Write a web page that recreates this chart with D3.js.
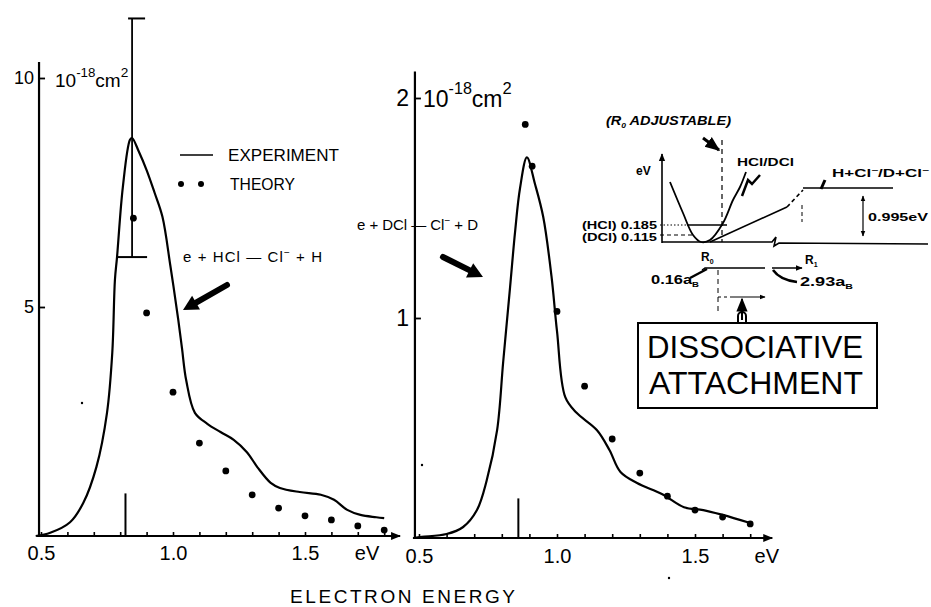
<!DOCTYPE html>
<html><head><meta charset="utf-8">
<script src="https://cdn.jsdelivr.net/npm/d3@7/dist/d3.min.js"></script>
<style>
body{margin:0;background:#fff;}
svg{display:block;font-family:"Liberation Sans",Arial,sans-serif;}
</style></head><body>
<svg id="c" width="931" height="607"></svg>
<script>
// ---------------- DATA ----------------
const energyTicksL = [0.5,0.6,0.7,0.8,0.9,1.0,1.1,1.2,1.3,1.4,1.5,1.6,1.7,1.8];
const energyTicksR = [0.5,0.6,0.7,0.8,0.9,1.0,1.1,1.2,1.3,1.4,1.5,1.6,1.7];
const xTickLabels = ["0.5","1.0","1.5"];
const hclYTicks = [5,10];
const dclYTicks = [1,2];

// e + HCl -> Cl- + H  (10^-18 cm^2)
const hclExpE = [0.48,0.535,0.61,0.66,0.71,0.75,0.77,0.78,0.788,0.81,0.837,0.845,0.87,0.9,0.93,0.96,0.99,1.02,1.034,1.05,1.083,1.13,1.18,1.23,1.28,1.32,1.37,1.405,1.48,1.56,1.61,1.66,1.71,1.77,1.80];
const hclExpV = [0,0.07,0.3,0.72,1.51,2.69,4.0,5.59,6.09,7.62,8.65,8.69,8.4,7.99,7.5,6.97,5.9,4.72,4.1,3.4,2.69,2.45,2.27,2.1,1.83,1.5,1.16,1.05,0.96,0.9,0.79,0.57,0.46,0.41,0.39];
const hclTheoryE = [0.85,0.9,1.0,1.1,1.2,1.3,1.4,1.5,1.6,1.7,1.8];
const hclTheoryV = [6.94,4.87,3.14,2.03,1.42,0.9,0.61,0.44,0.35,0.22,0.13];
const hclErrE = [0.845];
const hclErrLo = [6.09];
const hclErrHi = [11.3];

// e + DCl -> Cl- + D  (10^-18 cm^2)
const dclExpE = [0.48,0.51,0.6,0.66,0.71,0.745,0.783,0.805,0.83,0.848,0.866,0.891,0.92,0.95,0.98,1.0,1.03,1.07,1.145,1.19,1.23,1.29,1.38,1.46,1.53,1.6,1.70];
const dclExpV = [0,0.005,0.018,0.05,0.127,0.26,0.49,0.8,1.14,1.39,1.59,1.73,1.61,1.46,1.19,0.94,0.64,0.57,0.49,0.4,0.3,0.25,0.2,0.14,0.127,0.105,0.068];
const dclTheoryE = [0.885,0.91,1.0,1.1,1.2,1.3,1.4,1.5,1.6,1.7];
const dclTheoryV = [1.88,1.69,1.03,0.69,0.45,0.295,0.19,0.127,0.095,0.064];

// threshold markers (energy, marker height in panel units)
const thresholdE = [0.82,0.86];
const thresholdH = [0.93,0.18];

// ---------------- DRAW ----------------
const svg = d3.select("#c");
const defs = svg.append("defs");
defs.append("marker").attr("id","ah").attr("viewBox","0 0 10 10").attr("refX",9).attr("refY",5)
  .attr("markerWidth",7).attr("markerHeight",7).attr("orient","auto-start-reverse")
  .append("path").attr("d","M0,1L10,5L0,9z").attr("fill","#000");
defs.append("marker").attr("id","ahs").attr("viewBox","0 0 10 10").attr("refX",9).attr("refY",5)
  .attr("markerWidth",5).attr("markerHeight",5).attr("orient","auto-start-reverse")
  .append("path").attr("d","M0,1L10,5L0,9z").attr("fill","#000");

function thickArrow(x1,y1,x2,y2,w,hl,hw){
  const dx=x2-x1, dy=y2-y1, L=Math.hypot(dx,dy), ux=dx/L, uy=dy/L, px=-uy, py=ux;
  const bx=x2-ux*hl, by=y2-uy*hl;
  svg.append("line").attr("x1",x1).attr("y1",y1).attr("x2",bx+ux*2).attr("y2",by+uy*2)
    .attr("stroke","#000").attr("stroke-width",w).attr("stroke-linecap","round");
  svg.append("path").attr("d",`M${x2},${y2}L${bx+px*hw},${by+py*hw}L${bx-px*hw},${by-py*hw}Z`).attr("fill","#000");
}
function fit(sel,len){ return sel.attr("textLength",len).attr("lengthAdjust","spacingAndGlyphs"); }

function panel(o){
  const g = svg.append("g");
  const x = o.x, y = o.y;
  const fmt = d3.format(".1f");
  // x axis
  const xa = g.append("g").attr("transform",`translate(0,${y(0)})`)
    .call(d3.axisBottom(x).tickValues(o.xt).tickSize(-4)
      .tickFormat(d => xTickLabels.includes(fmt(d)) ? fmt(d) : ""));
  xa.select(".domain").remove();
  xa.selectAll(".tick line").attr("stroke","#000").attr("stroke-width",1.6);
  xa.selectAll(".tick text").attr("y",o.xlabY).attr("dy",0).attr("font-size",o.xfs)
    .attr("font-family",'"Liberation Sans",Arial,sans-serif').attr("fill","#000");
  g.append("line").attr("x1",x(o.xStart)).attr("x2",x(o.xEnd)).attr("y1",y(0)).attr("y2",y(0))
    .attr("stroke","#000").attr("stroke-width",2).attr("marker-end","url(#ahs)");
  g.append("text").attr("x",x(o.evAt)).attr("y",y(0)+o.xlabY).attr("text-anchor","middle")
    .attr("font-size",o.xfs).text("eV");
  // y axis
  const ya = g.append("g").attr("transform",`translate(${x(o.xStart)+2},0)`)
    .call(d3.axisLeft(y).tickValues(o.yt).tickSize(-6).tickPadding(o.ypad).tickFormat(d3.format("d")));
  ya.select(".domain").remove();
  ya.selectAll(".tick line").attr("stroke","#000").attr("stroke-width",1.8);
  ya.selectAll(".tick text").attr("font-size",o.yfs).attr("fill","#000")
    .attr("font-family",'"Liberation Sans",Arial,sans-serif');
  g.append("line").attr("x1",x(o.xStart)+2).attr("x2",x(o.xStart)+2).attr("y1",y(0)).attr("y2",y(o.yTop))
    .attr("stroke","#000").attr("stroke-width",2.2);
  // unit label
  const u = g.append("text").attr("x",o.unitX).attr("y",o.unitY).attr("font-size",o.ufs);
  u.append("tspan").text("10");
  u.append("tspan").attr("font-size",o.ufs*0.7).attr("dy",-o.ufs*0.55).text("-18");
  u.append("tspan").attr("dy",o.ufs*0.55).text("cm");
  u.append("tspan").attr("font-size",o.ufs*0.72).attr("dy",-o.ufs*0.55).text("2");
  // threshold marker
  g.append("line").attr("x1",x(o.thE)).attr("x2",x(o.thE)).attr("y1",y(0)).attr("y2",y(o.thH))
    .attr("stroke","#000").attr("stroke-width",2);
  // experiment curve
  const line = d3.line().x(d=>x(d[0])).y(d=>y(d[1])).curve(d3.curveCatmullRom.alpha(0.5));
  g.append("path").datum(d3.zip(o.expE,o.expV)).attr("d",line)
    .attr("fill","none").attr("stroke","#000").attr("stroke-width",2.2);
  // theory dots
  g.selectAll("circle.t").data(d3.zip(o.thyE,o.thyV)).join("circle")
    .attr("cx",d=>x(d[0])).attr("cy",d=>y(d[1])).attr("r",3.4).attr("fill","#000");
  return g;
}

const xL = d3.scaleLinear().domain([0.5,1.0]).range([41,173]);
const yL = d3.scaleLinear().domain([0,10]).range([536,78]);
const xR = d3.scaleLinear().domain([0.5,1.0]).range([419,557]);
const yR = d3.scaleLinear().domain([0,2]).range([538,98]);

panel({x:xL,y:yL,xt:energyTicksL,xStart:0.485,xEnd:1.86,evAt:1.735,xlabY:24,xfs:20,
  yt:hclYTicks,yTop:10.35,ypad:5,yfs:18,unitX:55,unitY:87,ufs:19,
  thE:thresholdE[0],thH:thresholdH[0],expE:hclExpE,expV:hclExpV,thyE:hclTheoryE,thyV:hclTheoryV});
panel({x:xR,y:yR,xt:energyTicksR,xStart:0.478,xEnd:1.78,evAt:1.76,xlabY:25,xfs:20,
  yt:dclYTicks,yTop:2.12,ypad:6,yfs:23,unitX:423,unitY:107,ufs:23,
  thE:thresholdE[1],thH:thresholdH[1],expE:dclExpE,expV:dclExpV,thyE:dclTheoryE,thyV:dclTheoryV});

// error bar (left panel)
hclErrE.forEach((e,i)=>{
  const cx=xL(e);
  svg.append("line").attr("x1",cx).attr("x2",cx).attr("y1",yL(hclErrLo[i])).attr("y2",yL(hclErrHi[i]))
    .attr("stroke","#000").attr("stroke-width",1.8);
  svg.append("line").attr("x1",cx-4).attr("x2",cx+13).attr("y1",yL(hclErrHi[i])).attr("y2",yL(hclErrHi[i]))
    .attr("stroke","#000").attr("stroke-width",2);
  svg.append("line").attr("x1",cx-15).attr("x2",cx+15).attr("y1",yL(hclErrLo[i])).attr("y2",yL(hclErrLo[i]))
    .attr("stroke","#000").attr("stroke-width",2);
});

// legend
svg.append("line").attr("x1",180).attr("x2",213).attr("y1",155).attr("y2",155).attr("stroke","#000").attr("stroke-width",1.6);
fit(svg.append("text").attr("x",228).attr("y",161).attr("font-size",17),111).text("EXPERIMENT");
[181,201].forEach(cx=>svg.append("circle").attr("cx",cx).attr("cy",184).attr("r",3).attr("fill","#000"));
fit(svg.append("text").attr("x",230).attr("y",190).attr("font-size",17),65).text("THEORY");

// reaction labels
const r1 = svg.append("text").attr("x",183).attr("y",262).attr("font-size",15).attr("textLength",139);
r1.append("tspan").text("e + HCl — Cl");
r1.append("tspan").attr("font-size",10).attr("dy",-6).text("−");
r1.append("tspan").attr("dy",6).text(" + H");
const r2 = svg.append("text").attr("x",357).attr("y",230).attr("font-size",15).attr("textLength",121);
r2.append("tspan").text("e + DCl — Cl");
r2.append("tspan").attr("font-size",10).attr("dy",-6).text("−");
r2.append("tspan").attr("dy",6).text(" + D");

thickArrow(227,285,183,310,6,15,8);
thickArrow(443,257,483,277,6,15,8);

// x title
svg.append("text").attr("x",290).attr("y",603).attr("font-size",19).attr("textLength",225).text("ELECTRON ENERGY");

// stray specks from the original scan
[[82,403],[422,465],[669,578]].forEach(p=>svg.append("circle").attr("cx",p[0]).attr("cy",p[1]).attr("r",1.2).attr("fill","#000"));

// ---------------- INSET: potential-curve schematic ----------------
const ins = svg.append("g").attr("font-weight","bold");
const st = (s)=>s.attr("stroke","#000").attr("fill","none");
const t1 = fit(ins.append("text").attr("x",606).attr("y",125).attr("font-size",12).attr("font-style","italic"),125);
t1.append("tspan").text("(R");
t1.append("tspan").attr("font-size",7).attr("dy",3).text("0");
t1.append("tspan").attr("dy",-3).text("  ADJUSTABLE)");
st(ins.append("line").attr("x1",703).attr("y1",138).attr("x2",719).attr("y2",150)).attr("stroke-width",3).attr("marker-end","url(#ahs)");
st(ins.append("line").attr("x1",722).attr("y1",140).attr("x2",722).attr("y2",242)).attr("stroke-width",1.2).attr("stroke-dasharray","5,4");
// eV axis
st(ins.append("line").attr("x1",662).attr("y1",243).attr("x2",662).attr("y2",154)).attr("stroke-width",1.6).attr("marker-end","url(#ahs)");
ins.append("text").attr("x",636).attr("y",175).attr("font-size",12).text("eV");
// bottom axis with break
st(ins.append("path").attr("d","M662,242L772,242L776,237L774,246L779,243L928,244")).attr("stroke-width",1.6);
// parabola
const para = [[670,182],[683,213],[693,235],[701,242],[710,240],[723,223],[733,200],[740,187],[746,172]];
st(ins.append("path").attr("d",d3.line().curve(d3.curveCatmullRom)(para))).attr("stroke-width",1.8);
// levels
st(ins.append("line").attr("x1",660).attr("y1",225).attr("x2",687).attr("y2",225)).attr("stroke-width",1).attr("stroke-dasharray","1.5,2");
st(ins.append("line").attr("x1",687).attr("y1",225).attr("x2",727).attr("y2",225)).attr("stroke-width",1.4);
st(ins.append("line").attr("x1",660).attr("y1",235).attr("x2",692).attr("y2",235)).attr("stroke-width",1.2).attr("stroke-dasharray","4,3");
fit(ins.append("text").attr("x",582).attr("y",229).attr("font-size",10),75).text("(HCl) 0.185");
fit(ins.append("text").attr("x",582).attr("y",241).attr("font-size",10),75).text("(DCl) 0.115");
// repulsive curve and plateau
st(ins.append("line").attr("x1",710).attr("y1",242).attr("x2",787).attr("y2",207)).attr("stroke-width",1.6);
st(ins.append("line").attr("x1",787).attr("y1",207).attr("x2",803).attr("y2",190)).attr("stroke-width",1.6).attr("stroke-dasharray","4,3");
st(ins.append("line").attr("x1",803).attr("y1",188).attr("x2",893).attr("y2",188)).attr("stroke-width",1.6);
st(ins.append("line").attr("x1",802).attr("y1",205).attr("x2",802).attr("y2",222)).attr("stroke-width",1).attr("stroke-dasharray","4,3");
st(ins.append("line").attr("x1",863).attr("y1",196).attr("x2",863).attr("y2",236)).attr("stroke-width",1.2)
  .attr("marker-start","url(#ahs)").attr("marker-end","url(#ahs)");
fit(ins.append("text").attr("x",868).attr("y",221).attr("font-size",11),60).text("0.995eV");
fit(ins.append("text").attr("x",737).attr("y",166).attr("font-size",11),57).text("HCl/DCl");
st(ins.append("path").attr("d","M760,175L752,184L748,180L742,196")).attr("stroke-width",2.5);
const t2 = fit(ins.append("text").attr("x",832).attr("y",177).attr("font-size",10),97);
t2.append("tspan").text("H+Cl");t2.append("tspan").attr("font-size",7).attr("dy",-4).text("−");
t2.append("tspan").attr("dy",4).text("/D+Cl");t2.append("tspan").attr("font-size",7).attr("dy",-4).text("−");
st(ins.append("line").attr("x1",825).attr("y1",180).attr("x2",821).attr("y2",189)).attr("stroke-width",3);
// R0, R1
const t3 = ins.append("text").attr("x",701).attr("y",261).attr("font-size",12);
t3.append("tspan").text("R");t3.append("tspan").attr("font-size",7).attr("dy",3).text("0");
const t4 = ins.append("text").attr("x",805).attr("y",264).attr("font-size",12);
t4.append("tspan").text("R");t4.append("tspan").attr("font-size",7).attr("dy",3).text("1");
st(ins.append("path").attr("d","M702,270L705,268L765,268M772,268L802,268")).attr("stroke-width",1.4).attr("marker-end","url(#ahs)");
const t5 = fit(ins.append("text").attr("x",651).attr("y",284).attr("font-size",12),48);
t5.append("tspan").text("0.16a");t5.append("tspan").attr("font-size",7).attr("dy",3).text("B");
st(ins.append("line").attr("x1",690).attr("y1",278).attr("x2",707).attr("y2",269)).attr("stroke-width",2.5);
const t6 = fit(ins.append("text").attr("x",800).attr("y",286).attr("font-size",12),53);
t6.append("tspan").text("2.93a");t6.append("tspan").attr("font-size",7).attr("dy",3).text("B");
st(ins.append("path").attr("d","M773,270Q780,280 797,282")).attr("stroke-width",2.5);
st(ins.append("line").attr("x1",718).attr("y1",270).attr("x2",718).attr("y2",312)).attr("stroke-width",1).attr("stroke-dasharray","5,4");
st(ins.append("line").attr("x1",718).attr("y1",297).attr("x2",732).attr("y2",297)).attr("stroke-width",1).attr("stroke-dasharray","3,3");
st(ins.append("line").attr("x1",732).attr("y1",297).attr("x2",765).attr("y2",297)).attr("stroke-width",1.2).attr("marker-end","url(#ahs)");
st(ins.append("line").attr("x1",742).attr("y1",320).attr("x2",742).attr("y2",299)).attr("stroke-width",2).attr("marker-end","url(#ah)");
st(ins.append("path").attr("d","M738,322L738,316A4,4 0 0 1 746,316L746,322")).attr("stroke-width",2);
// box
svg.append("rect").attr("x",638).attr("y",323).attr("width",239).attr("height",85)
  .attr("fill","#fff").attr("stroke","#000").attr("stroke-width",2);
fit(svg.append("text").attr("x",647).attr("y",358).attr("font-size",32),216).text("DISSOCIATIVE");
fit(svg.append("text").attr("x",649).attr("y",394).attr("font-size",32),214).text("ATTACHMENT");
</script>
</body></html>
